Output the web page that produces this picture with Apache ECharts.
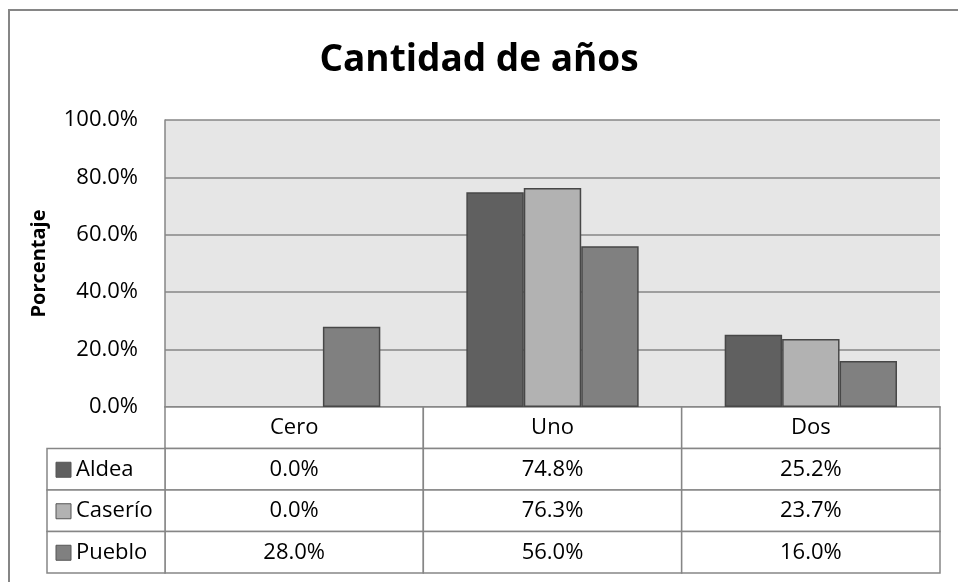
<!DOCTYPE html>
<html>
<head>
<meta charset="utf-8">
<script src="https://cdn.jsdelivr.net/npm/echarts@6/dist/echarts.min.js"></script>
<style>
  html, body { margin: 0; padding: 0; background: #fff; }
  #chart { width: 958px; height: 582px; }
</style>
</head>
<body>
<div id="chart"></div>
<script>
// datos del gráfico
const categories = ['Cero', 'Uno', 'Dos']
const seriesNames = ['Aldea', 'Caserío', 'Pueblo']
const aldea = [0.0, 74.8, 25.2]
const caserio = [0.0, 76.3, 23.7]
const pueblo = [28.0, 56.0, 16.0]
const seriesColors = ['#606060', '#b2b2b2', '#808080']

const values = [aldea, caserio, pueblo]
const FONT = 'Open Sans'
const GRID_LINE = '#868686'
const TABLE_FONT = '22px "' + FONT + '"'

const chart = echarts.init(document.getElementById('chart'))

// celdas de la tabla: encabezado (fila 0) y valores (filas 1..3)
const cellData = []
categories.forEach((c, i) => {
  cellData.push([i, 0])
  seriesNames.forEach((s, r) => cellData.push([i, r + 1]))
})
const legendData = seriesNames.map((s, r) => [0, r + 1])

const cellText = (x, y) => {
  if (y === 0) return categories[x]
  return values[y - 1][x].toFixed(1) + '%'
}

const renderCell = (params, api) => {
  const x = api.value(0)
  const y = api.value(1)
  const c = api.coord([x, y])
  const s = api.size([1, 1])
  return {
    type: 'group',
    children: [
      {
        type: 'rect',
        shape: { x: c[0] - s[0] / 2, y: c[1] - s[1] / 2, width: s[0], height: s[1] },
        style: { fill: '#fff', stroke: GRID_LINE, lineWidth: 1.5 },
      },
      {
        type: 'text',
        x: c[0],
        y: c[1],
        style: {
          text: cellText(x, y),
          fill: '#000',
          font: TABLE_FONT,
          align: 'center',
          verticalAlign: 'middle',
        },
      },
    ],
  }
}

const LEGEND_W = 118
const renderLegend = (params, api) => {
  const y = api.value(1)
  const c = api.coord([0, y])
  const s = api.size([1, 1])
  const left = c[0] - s[0] / 2 - LEGEND_W
  return {
    type: 'group',
    children: [
      {
        type: 'rect',
        shape: { x: left, y: c[1] - s[1] / 2, width: LEGEND_W, height: s[1] },
        style: { fill: '#fff', stroke: GRID_LINE, lineWidth: 1.5 },
      },
      {
        type: 'rect',
        shape: { x: left + 9, y: c[1] - 7, width: 15, height: 15 },
        style: { fill: seriesColors[y - 1], stroke: '#555', lineWidth: 1 },
      },
      {
        type: 'text',
        x: left + 29,
        y: c[1],
        style: {
          text: seriesNames[y - 1],
          fill: '#000',
          font: TABLE_FONT,
          align: 'left',
          verticalAlign: 'middle',
        },
      },
    ],
  }
}

const barSeries = values.map((arr, k) => ({
  name: seriesNames[k],
  type: 'bar',
  xAxisIndex: 0,
  yAxisIndex: 0,
  barGap: '0%',
  barCategoryGap: '33.3%',
  data: arr.map(v => ({
    value: v,
    itemStyle: { borderWidth: v === 0 ? 0 : 1.5 },
  })),
  itemStyle: { color: seriesColors[k], borderColor: '#474747', borderWidth: 1.5 },
  emphasis: { disabled: true },
}))

const option = {
  animation: false,
  textStyle: { fontFamily: FONT },
  title: {
    text: 'Cantidad de años',
    left: 'center',
    top: 37,
    textStyle: { fontFamily: FONT, fontSize: 37, fontWeight: 'bold', color: '#000' },
  },
  graphic: [
    {
      type: 'rect',
      silent: true,
      z: -10,
      shape: { x: 9, y: 10, width: 1000, height: 700 },
      style: { fill: '#fff', stroke: GRID_LINE, lineWidth: 2 },
    },
  ],
  grid: [
    { left: 165, right: 18, top: 120, height: 287, show: true, backgroundColor: '#e6e6e6', borderWidth: 0 },
    { left: 165, right: 18, top: 407, height: 166 },
  ],
  xAxis: [
    {
      type: 'category',
      gridIndex: 0,
      data: categories,
      axisLine: { show: true, lineStyle: { color: GRID_LINE, width: 1.5 } },
      axisTick: { show: false },
      axisLabel: { show: false },
    },
    {
      type: 'category',
      gridIndex: 1,
      data: categories,
      show: false,
    },
  ],
  yAxis: [
    {
      type: 'value',
      gridIndex: 0,
      min: 0,
      max: 100,
      interval: 20,
      name: 'Porcentaje',
      nameLocation: 'middle',
      nameRotate: 90,
      nameGap: 116,
      nameTextStyle: { fontFamily: FONT, fontSize: 20, fontWeight: 'bold', color: '#000' },
      axisLine: { show: true, lineStyle: { color: GRID_LINE, width: 1.5 } },
      axisTick: { show: false },
      axisLabel: {
        margin: 27,
        fontFamily: FONT,
        fontSize: 22,
        color: '#000',
        formatter: v => v.toFixed(1) + '%',
      },
      splitLine: { show: true, lineStyle: { color: GRID_LINE, width: 1.5 } },
    },
    {
      type: 'category',
      gridIndex: 1,
      inverse: true,
      data: [''].concat(seriesNames),
      show: false,
    },
  ],
  series: barSeries.concat([
    {
      type: 'custom',
      xAxisIndex: 1,
      yAxisIndex: 1,
      clip: false,
      renderItem: renderCell,
      data: cellData,
      silent: true,
    },
    {
      type: 'custom',
      xAxisIndex: 1,
      yAxisIndex: 1,
      clip: false,
      renderItem: renderLegend,
      data: legendData,
      silent: true,
    },
  ]),
}

chart.setOption(option)
</script>
</body>
</html>
